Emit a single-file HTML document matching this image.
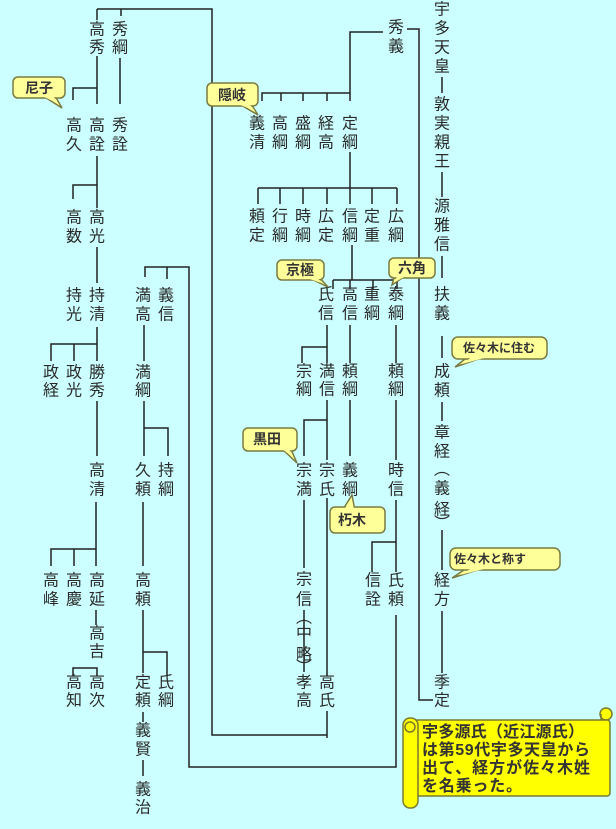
<!DOCTYPE html>
<html><head><meta charset="utf-8"><style>
html,body{margin:0;padding:0;background:#ccffff;}
svg{display:block;}
.n text{font-family:"Liberation Sans","Noto Sans CJK JP",sans-serif;font-size:16px;fill:#2a2a2a;text-anchor:middle;dominant-baseline:central;}
.c text{font-family:"Liberation Sans","Noto Sans CJK JP",sans-serif;font-size:14px;font-weight:bold;fill:#333;text-anchor:middle;dominant-baseline:central;}
.s text{font-family:"Liberation Sans","Noto Sans CJK JP",sans-serif;font-size:16px;font-weight:bold;fill:#333;letter-spacing:0px;}
</style></head><body>
<svg width="616" height="829" viewBox="0 0 616 829" xmlns="http://www.w3.org/2000/svg">
<rect width="616" height="829" fill="#ccffff"/>
<g stroke="#222" stroke-width="1.5" fill="none">
<path d="M97 9H212V735H327M97 9V20M121 9V16"/>
<path d="M327 498V676M327 711V738"/>
<path d="M145 277V267H189V767H396V615M167 267V279"/>
<path d="M97 56V104M97 88H73V100M120 58V104"/>
<path d="M97 156V208M97 185H73V199"/>
<path d="M97 247V283"/>
<path d="M97 327V361M97 344H51V361M74 344V361"/>
<path d="M144 325V361"/>
<path d="M97 401V456"/>
<path d="M144 401V456M144 428H168V456"/>
<path d="M96 502V566M96 549H51V566M74 549V566"/>
<path d="M96 610V625"/>
<path d="M73 676V668H97V676"/>
<path d="M143 502V566"/>
<path d="M143 610V673M143 652H167V676"/>
<path d="M143 712V722M143 760V776"/>
<path d="M407 29H419V700H433"/>
<path d="M383 32H350V93H262V101M281 93V101M303 93V101M327 93V101M350 93V101"/>
<path d="M350 152V188M258 188H397M258 188V204M280 188V204M303 188V204M327 188V204M350 188V204M372 188V204M397 188V204"/>
<path d="M352 245V280M333 280H397M333 280V289M350 280V289M373 280V289M397 280V289"/>
<path d="M327 325V363M327 347H302V363M350 325V363M396 325V363"/>
<path d="M327 400V460M327 420H304V456M350 400V456M396 400V460"/>
<path d="M304 500V568M304 610V672"/>
<path d="M396 500V542H372V572M396 542V572"/>
<path d="M442 77V93M442 172V197M442 256V278M442 336V358M442 402V421M442 530V570M442 611V673"/>
</g>
<g class="n">
<text x="97" y="30">高</text><text x="97" y="48">秀</text><text x="120" y="30">秀</text><text x="120" y="48">綱</text>
<text x="74" y="126">高</text><text x="74" y="145">久</text><text x="97" y="126">高</text><text x="97" y="145">詮</text><text x="120" y="126">秀</text><text x="120" y="145">詮</text>
<text x="74" y="218">高</text><text x="74" y="237">数</text><text x="97" y="218">高</text><text x="97" y="237">光</text>
<text x="74" y="296">持</text><text x="74" y="315">光</text><text x="97" y="296">持</text><text x="97" y="315">清</text>
<text x="143" y="296">満</text><text x="143" y="315">高</text><text x="166" y="296">義</text><text x="166" y="315">信</text>
<text x="51" y="373">政</text><text x="51" y="391">経</text><text x="74" y="373">政</text><text x="74" y="391">光</text><text x="97" y="373">勝</text><text x="97" y="391">秀</text>
<text x="143" y="373">満</text><text x="143" y="391">綱</text>
<text x="97" y="471">高</text><text x="97" y="490">清</text><text x="143" y="471">久</text><text x="143" y="490">頼</text><text x="166" y="471">持</text><text x="166" y="490">綱</text>
<text x="51" y="581">高</text><text x="51" y="600">峰</text><text x="74" y="581">高</text><text x="74" y="600">慶</text><text x="97" y="581">高</text><text x="97" y="600">延</text>
<text x="97" y="634">高</text><text x="97" y="652">吉</text>
<text x="74" y="683">高</text><text x="74" y="701">知</text><text x="97" y="683">高</text><text x="97" y="701">次</text>
<text x="143" y="581">高</text><text x="143" y="600">頼</text>
<text x="143" y="683">定</text><text x="143" y="701">頼</text><text x="166" y="683">氏</text><text x="166" y="701">綱</text>
<text x="143" y="731">義</text><text x="143" y="750">賢</text>
<text x="143" y="790">義</text><text x="143" y="808">治</text>

<text x="396" y="28">秀</text><text x="396" y="47">義</text>
<text x="442" y="10">宇</text><text x="442" y="29">多</text><text x="442" y="48">天</text><text x="442" y="67">皇</text>
<text x="442" y="105">敦</text><text x="442" y="124">実</text><text x="442" y="143">親</text><text x="442" y="162">王</text>
<text x="442" y="207">源</text><text x="442" y="226">雅</text><text x="442" y="245">信</text>
<text x="442" y="295">扶</text><text x="442" y="314">義</text>
<text x="442" y="372">成</text><text x="442" y="391">頼</text>
<text x="442" y="433">章</text><text x="442" y="452">経</text>
<text x="442" y="470">︵</text><text x="442" y="489">義</text><text x="442" y="510">経</text><text x="442" y="524">︶</text>
<text x="442" y="581">経</text><text x="442" y="600">方</text>
<text x="442" y="683">季</text><text x="442" y="701">定</text>

<text x="257" y="124">義</text><text x="257" y="143">清</text><text x="280" y="124">高</text><text x="280" y="143">綱</text><text x="303" y="124">盛</text><text x="303" y="143">綱</text><text x="326" y="124">経</text><text x="326" y="143">高</text><text x="350" y="124">定</text><text x="350" y="143">綱</text>
<text x="257" y="217">頼</text><text x="257" y="236">定</text><text x="280" y="217">行</text><text x="280" y="236">綱</text><text x="303" y="217">時</text><text x="303" y="236">綱</text><text x="326" y="217">広</text><text x="326" y="236">定</text><text x="350" y="217">信</text><text x="350" y="236">綱</text><text x="372" y="217">定</text><text x="372" y="236">重</text><text x="396" y="217">広</text><text x="396" y="236">綱</text>
<text x="326" y="295">氏</text><text x="326" y="314">信</text><text x="350" y="295">高</text><text x="350" y="314">信</text><text x="372" y="295">重</text><text x="372" y="314">綱</text><text x="396" y="295">泰</text><text x="396" y="314">綱</text>
<text x="304" y="372">宗</text><text x="304" y="390">綱</text><text x="327" y="372">満</text><text x="327" y="390">信</text><text x="350" y="372">頼</text><text x="350" y="390">綱</text><text x="396" y="372">頼</text><text x="396" y="390">綱</text>
<text x="304" y="471">宗</text><text x="304" y="490">満</text><text x="327" y="471">宗</text><text x="327" y="490">氏</text><text x="350" y="471">義</text><text x="350" y="490">綱</text><text x="396" y="471">時</text><text x="396" y="490">信</text>
<text x="304" y="580">宗</text><text x="304" y="600">信</text><text x="304" y="618">︵</text><text x="304" y="634">中</text><text x="304" y="655">略</text><text x="304" y="668">︶</text>
<text x="304" y="683">孝</text><text x="304" y="701">高</text><text x="327" y="683">高</text><text x="327" y="701">氏</text>
<text x="373" y="581">信</text><text x="373" y="600">詮</text><text x="396" y="581">氏</text><text x="396" y="600">頼</text>
</g>
<g class="c" stroke="#7a7a40" stroke-width="1.5">
<g><polygon points="40,94 54,94 62,108" fill="#ffff99"/><rect x="13" y="77" width="52" height="21" rx="5" fill="#ffff99"/><polygon points="42,96 53,96 59,104" fill="#ffff99" stroke="none"/><text x="39" y="88" stroke="none">尼子</text></g>
<g><polygon points="236,102 250,102 258,115" fill="#ffff99"/><rect x="207" y="83" width="51" height="23" rx="5" fill="#ffff99"/><polygon points="238,104 249,104 255,111" fill="#ffff99" stroke="none"/><text x="232" y="95" stroke="none">隠岐</text></g>
<g><polygon points="305,276 318,276 328,287" fill="#ffff99"/><rect x="277" y="260" width="47" height="20" rx="5" fill="#ffff99"/><polygon points="307,278 317,278 324,284" fill="#ffff99" stroke="none"/><text x="300" y="270" stroke="none">京極</text></g>
<g><polygon points="395,274 408,274 392,285" fill="#ffff99"/><rect x="389" y="258" width="46" height="20" rx="5" fill="#ffff99"/><polygon points="397,276 406,276 395,282" fill="#ffff99" stroke="none"/><text x="412" y="268" stroke="none">六角</text></g>
<g><polygon points="470,355 490,355 455,367" fill="#ffff99"/><rect x="452" y="337" width="95" height="22" rx="6" fill="#ffff99"/><polygon points="472,357 488,357 462,364" fill="#ffff99" stroke="none"/><text x="499" y="348" stroke="none" style="font-size:12px">佐々木に住む</text></g>
<g><polygon points="280,447 290,447 297,463" fill="#ffff99"/><rect x="243" y="428" width="54" height="23" rx="5" fill="#ffff99"/><polygon points="282,449 289,449 294,458" fill="#ffff99" stroke="none"/><text x="267" y="439" stroke="none">黒田</text></g>
<g><polygon points="342,511 355,511 352,495" fill="#ffff99"/><rect x="330" y="507" width="55" height="26" rx="5" fill="#ffff99"/><polygon points="344,509 354,509 352,500" fill="#ffff99" stroke="none"/><text x="352" y="520" stroke="none">朽木</text></g>
<g><polygon points="470,566 490,566 452,578" fill="#ffff99"/><rect x="450" y="548" width="110" height="22" rx="6" fill="#ffff99"/><polygon points="472,568 488,568 460,575" fill="#ffff99" stroke="none"/><text x="490" y="559" stroke="none" style="font-size:12px">佐々木と称す</text></g>
</g>
<g stroke="#7a7a30" stroke-width="1.5" fill="#ffff00">
<circle cx="606" cy="714" r="6"/>
<rect x="413" y="720" width="197" height="76" rx="3"/>
<rect x="403" y="718" width="15" height="90" rx="7"/>
<circle cx="410" cy="727" r="5"/>
<path d="M601 720V714" fill="none"/>
</g>
<g class="s">
<text x="422" y="737" textLength="162">宇多源氏（近江源氏）</text>
<text x="422" y="755" textLength="168">は第59代宇多天皇から</text>
<text x="422" y="773" textLength="168">出て、経方が佐々木姓</text>
<text x="422" y="791" textLength="100">を名乗った。</text>
</g>
</svg>
</body></html>
